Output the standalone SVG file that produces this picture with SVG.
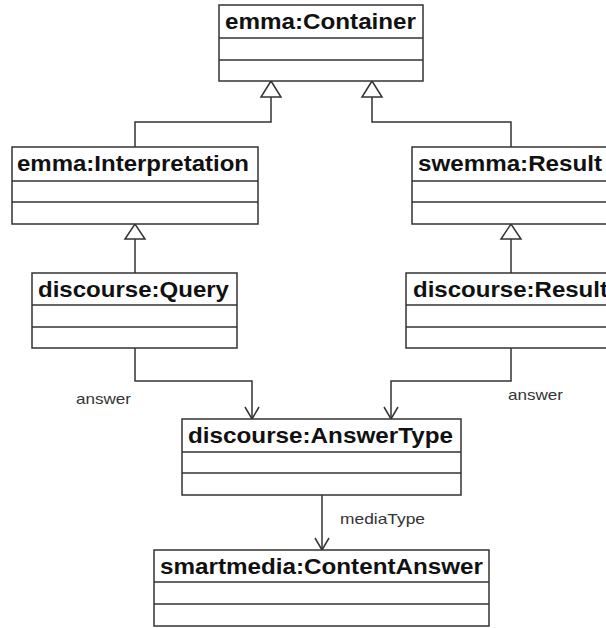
<svg xmlns="http://www.w3.org/2000/svg" width="606" height="628" viewBox="0 0 606 628">
<style>
.box{fill:#fff;stroke:#333;stroke-width:1.5}
.sep{stroke:#333;stroke-width:1.5}
.t{font-family:"Liberation Sans",Arial,sans-serif;font-weight:bold;font-size:22.5px;fill:#111}
.l{font-family:"Liberation Sans",Arial,sans-serif;font-size:15px;fill:#333}
.c{fill:none;stroke:#333;stroke-width:1.5}
.tri{fill:#fff;stroke:#333;stroke-width:1.5}
</style>
<rect width="606" height="628" fill="#fff"/>
<g id="connectors">
<polyline class="c" points="135,147 135,122 271,122 271,97"/>
<polygon class="tri" points="271,81 261,97 281,97"/>
<polyline class="c" points="372,97 372,122 511,122 511,147"/>
<polygon class="tri" points="372,81 362,97 382,97"/>
<line class="c" x1="135" y1="239" x2="135" y2="273"/>
<polygon class="tri" points="135,224 125,239 145,239"/>
<line class="c" x1="511" y1="239" x2="511" y2="273"/>
<polygon class="tri" points="511,224 501,239 521,239"/>
<polyline class="c" points="135,348 135,381 252,381 252,419"/>
<polyline class="c" points="245,407 252,419 259,407"/>
<polyline class="c" points="511,348 511,381 391,381 391,419"/>
<polyline class="c" points="384,407 391,419 398,407"/>
<line class="c" x1="322" y1="495" x2="322" y2="550"/>
<polyline class="c" points="315,538 322,550 329,538"/>
<text class="l" x="76" y="404" textLength="55" lengthAdjust="spacingAndGlyphs">answer</text>
<text class="l" x="508" y="400" textLength="55" lengthAdjust="spacingAndGlyphs">answer</text>
<text class="l" x="340" y="524" textLength="85" lengthAdjust="spacingAndGlyphs">mediaType</text>
</g>
<g id="container">
<rect class="box" x="219" y="5" width="204" height="76"/>
<line class="sep" x1="219" y1="38" x2="423" y2="38"/>
<line class="sep" x1="219" y1="60" x2="423" y2="60"/>
<text class="t" x="225" y="29" textLength="191" lengthAdjust="spacingAndGlyphs">emma:Container</text>
</g>
<g id="interpretation">
<rect class="box" x="12" y="147" width="246" height="77"/>
<line class="sep" x1="12" y1="181" x2="258" y2="181"/>
<line class="sep" x1="12" y1="202" x2="258" y2="202"/>
<text class="t" x="17" y="171" textLength="232" lengthAdjust="spacingAndGlyphs">emma:Interpretation</text>
</g>
<g id="swemmaResult">
<rect class="box" x="412" y="147" width="200" height="77"/>
<line class="sep" x1="412" y1="181" x2="612" y2="181"/>
<line class="sep" x1="412" y1="202" x2="612" y2="202"/>
<text class="t" x="418" y="171" textLength="184" lengthAdjust="spacingAndGlyphs">swemma:Result</text>
</g>
<g id="query">
<rect class="box" x="32" y="273" width="205" height="75"/>
<line class="sep" x1="32" y1="305" x2="237" y2="305"/>
<line class="sep" x1="32" y1="327" x2="237" y2="327"/>
<text class="t" x="38" y="297" textLength="191" lengthAdjust="spacingAndGlyphs">discourse:Query</text>
</g>
<g id="discourseResult">
<rect class="box" x="406" y="273" width="210" height="75"/>
<line class="sep" x1="406" y1="305" x2="616" y2="305"/>
<line class="sep" x1="406" y1="327" x2="616" y2="327"/>
<text class="t" x="413" y="297" textLength="195" lengthAdjust="spacingAndGlyphs">discourse:Result</text>
</g>
<g id="answerType">
<rect class="box" x="182" y="419" width="279" height="76"/>
<line class="sep" x1="182" y1="452" x2="461" y2="452"/>
<line class="sep" x1="182" y1="473" x2="461" y2="473"/>
<text class="t" x="188" y="443" textLength="265" lengthAdjust="spacingAndGlyphs">discourse:AnswerType</text>
</g>
<g id="contentAnswer">
<rect class="box" x="154" y="550" width="335" height="76"/>
<line class="sep" x1="154" y1="582" x2="489" y2="582"/>
<line class="sep" x1="154" y1="604" x2="489" y2="604"/>
<text class="t" x="160" y="574" textLength="323" lengthAdjust="spacingAndGlyphs">smartmedia:ContentAnswer</text>
</g>
</svg>
